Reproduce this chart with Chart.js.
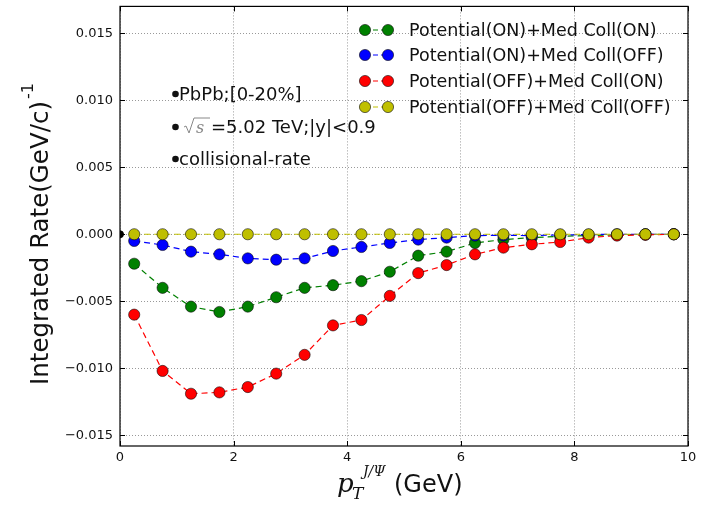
<!DOCTYPE html>
<html>
<head>
<meta charset="utf-8">
<script src="https://cdn.jsdelivr.net/npm/chart.js@4/dist/chart.umd.min.js"></script>
<style>
  html, body { margin: 0; padding: 0; background: #fff; }
  #wrap { width: 703px; height: 509px; }
</style>
</head>
<body>
<div id="wrap"><canvas id="chart"></canvas></div>
<script>
// J/psi integrated collisional rate vs pT, four potential / medium-collision settings

const PT = [0.25, 0.75, 1.25, 1.75, 2.25, 2.75, 3.25, 3.75, 4.25, 4.75,
            5.25, 5.75, 6.25, 6.75, 7.25, 7.75, 8.25, 8.75, 9.25, 9.75];

const POT_ON_COLL_ON   = [-0.0022, -0.0040, -0.0054, -0.0058, -0.0054, -0.0047, -0.0040, -0.0038, -0.0035, -0.0028,
                          -0.0016, -0.0013, -0.00065, -0.0004, -0.00025, -0.00015, -0.0001, -0.00005, 0, 0];
const POT_ON_COLL_OFF  = [-0.0005, -0.0008, -0.0013, -0.0015, -0.0018, -0.0019, -0.0018, -0.00125, -0.00095, -0.00065,
                          -0.0004, -0.00025, -0.0001, -0.00008, -0.0001, -0.00005, -0.00003, 0, 0, 0];
const POT_OFF_COLL_ON  = [-0.0060, -0.0102, -0.0119, -0.0118, -0.0114, -0.0104, -0.0090, -0.0068, -0.0064, -0.0046,
                          -0.0029, -0.0023, -0.0015, -0.0010, -0.00075, -0.00058, -0.00025, -0.0001, -0.00005, 0];
const POT_OFF_COLL_OFF = [0, 0, 0, 0, 0, 0, 0, 0, 0, 0, 0, 0, 0, 0, 0, 0, 0, 0, 0, 0];

const LABELS = [
  "Potential(ON)+Med Coll(ON)",
  "Potential(ON)+Med Coll(OFF)",
  "Potential(OFF)+Med Coll(ON)",
  "Potential(OFF)+Med Coll(OFF)",
];
const COLORS = ["#008000", "#0000ff", "#ff0000", "#bfbf00"];

const X_TICKS = [0, 2, 4, 6, 8, 10];
const Y_TICKS = [-0.015, -0.010, -0.005, 0.000, 0.005, 0.010, 0.015];

const NOTES = ["PbPb;[0-20%]", "=5.02 TeV;|y|<0.9", "collisional-rate"];

const FONT = "'DejaVu Sans', sans-serif";

function series(vals, i, order) {
  return {
    label: LABELS[i],
    data: PT.map((x, k) => ({ x, y: vals[k] })),
    borderColor: COLORS[i],
    backgroundColor: COLORS[i],
    pointBackgroundColor: COLORS[i],
    pointBorderColor: "rgba(0,0,0,0.7)",
    pointBorderWidth: 0.8,
    pointRadius: 5.6,
    borderWidth: 1.2,
    borderDash: [6, 4],
    tension: 0,
    fill: false,
    order,
  };
}

const fmtTick = v => {
  const s = Math.abs(v).toFixed(3);
  return (v < -1e-9 ? "\u2212" : "") + s;
};

// text, legend, axis titles and inward tick marks
const decor = {
  id: "decor",
  afterDraw(chart) {
    const { ctx, chartArea: a, scales: { x, y } } = chart;
    ctx.save();

    // inward ticks on all four sides
    ctx.strokeStyle = "#000";
    ctx.lineWidth = 1;
    ctx.beginPath();
    for (const t of Y_TICKS) {
      const py = Math.round(y.getPixelForValue(t)) + 0.5;
      ctx.moveTo(a.left, py); ctx.lineTo(a.left + 5, py);
      ctx.moveTo(a.right, py); ctx.lineTo(a.right - 5, py);
    }
    for (const t of X_TICKS) {
      const px = Math.round(x.getPixelForValue(t)) + 0.5;
      ctx.moveTo(px, a.bottom); ctx.lineTo(px, a.bottom - 5);
      ctx.moveTo(px, a.top); ctx.lineTo(px, a.top + 5);
    }
    ctx.stroke();

    // frame
    ctx.lineWidth = 1.2;
    ctx.strokeRect(a.left, a.top, a.right - a.left, a.bottom - a.top);

    // annotation block
    ctx.fillStyle = "#111";
    ctx.textBaseline = "alphabetic";
    const nx = 172, ny = [100, 133, 165];
    ctx.font = "18px " + FONT;
    for (let i = 0; i < NOTES.length; i++) {
      ctx.beginPath();
      ctx.arc(nx + 3.5, ny[i] - 6, 3.3, 0, Math.PI * 2);
      ctx.fill();
    }
    ctx.fillText(NOTES[0], nx + 7, ny[0]);
    ctx.fillText(NOTES[2], nx + 7, ny[2]);
    // sqrt(s)
    const sx = nx + 12, sy = ny[1];
    ctx.strokeStyle = "#888";
    ctx.lineWidth = 1;
    ctx.beginPath();
    ctx.moveTo(sx, sy - 6);
    ctx.lineTo(sx + 2, sy - 7);
    ctx.lineTo(sx + 5, sy);
    ctx.lineTo(sx + 10, sy - 15);
    ctx.lineTo(sx + 26, sy - 15);
    ctx.stroke();
    ctx.font = "italic 16px 'DejaVu Serif', serif";
    ctx.fillStyle = "#888";
    ctx.fillText("s", sx + 12, sy);
    ctx.fillStyle = "#111";
    ctx.font = "18px " + FONT;
    ctx.fillText(NOTES[1], sx + 27, sy);

    // legend
    const ly = [30, 55, 81, 107];
    ctx.font = "17.5px " + FONT;
    ctx.textBaseline = "middle";
    chart.data.datasets.slice(0, 4).forEach((ds, i) => {
      const yy = ly[i];
      ctx.strokeStyle = ds.borderColor;
      ctx.lineWidth = 1.2;
      ctx.setLineDash([5, 3]);
      ctx.beginPath();
      ctx.moveTo(365, yy); ctx.lineTo(388, yy);
      ctx.stroke();
      ctx.setLineDash([]);
      for (const cx of [365, 388]) {
        ctx.beginPath();
        ctx.arc(cx, yy, 5.6, 0, Math.PI * 2);
        ctx.fillStyle = ds.backgroundColor;
        ctx.fill();
        ctx.strokeStyle = "rgba(0,0,0,0.7)";
        ctx.lineWidth = 0.8;
        ctx.stroke();
      }
      ctx.fillStyle = "#111";
      ctx.fillText(ds.label, 409, yy + 1);
    });

    // y-axis title
    ctx.save();
    ctx.translate(42, 243);
    ctx.rotate(-Math.PI / 2);
    ctx.textAlign = "center";
    ctx.textBaseline = "middle";
    ctx.font = "24.5px " + FONT;
    const yt = "Integrated Rate(GeV/c)";
    ctx.fillText(yt, 0, 0);
    const w = ctx.measureText(yt).width;
    ctx.textAlign = "left";
    ctx.font = "16px " + FONT;
    ctx.fillText("-1", w / 2 + 2, -13);
    ctx.restore();

    // x-axis title p_T^{J/Psi}(GeV)
    const by = 492;
    ctx.textAlign = "left";
    ctx.textBaseline = "alphabetic";
    ctx.font = "italic 26px 'DejaVu Serif', serif";
    ctx.fillText("p", 337, by);
    ctx.font = "italic 17px 'DejaVu Serif', serif";
    ctx.fillText("T", 352, by + 7);
    ctx.font = "italic 14px 'DejaVu Serif', serif";
    ctx.fillText("J/\u03A8", 363, by - 16);
    ctx.font = "24px " + FONT;
    ctx.fillText("(GeV)", 394, by);

    ctx.restore();
  },
};

new Chart(document.getElementById("chart"), {
  type: "line",
  data: {
    datasets: [
      series(POT_ON_COLL_ON, 0, 4),
      series(POT_ON_COLL_OFF, 1, 3),
      series(POT_OFF_COLL_ON, 2, 2),
      series(POT_OFF_COLL_OFF, 3, 1),
      {
        label: "origin",
        data: [{ x: 0, y: 0 }],
        showLine: false,
        pointRadius: 3.5,
        pointBackgroundColor: "#000",
        pointBorderColor: "#000",
        order: 0,
      },
    ],
  },
  options: {
    responsive: true,
    maintainAspectRatio: false,
    animation: false,
    layout: { padding: { left: 0, right: 15, top: 5, bottom: 0 } },
    plugins: {
      legend: { display: false },
      tooltip: { enabled: false },
    },
    scales: {
      x: {
        type: "linear",
        min: 0,
        max: 10,
        afterBuildTicks: s => { s.ticks = X_TICKS.map(value => ({ value })); },
        afterFit: s => { s.height = 63; },
        ticks: { color: "#111", font: { family: FONT, size: 13 }, padding: 4 },
        grid: { color: "rgba(0,0,0,0.5)", lineWidth: 0.8, drawTicks: false },
        border: { display: false, dash: [1, 2] },
      },
      y: {
        type: "linear",
        min: -0.0158,
        max: 0.0170,
        afterBuildTicks: s => { s.ticks = Y_TICKS.map(value => ({ value })); },
        afterFit: s => { s.width = 120; s.paddingTop = 0; s.paddingBottom = 0; },
        ticks: { color: "#111", font: { family: FONT, size: 13 }, padding: 7, callback: fmtTick },
        grid: { color: "rgba(0,0,0,0.5)", lineWidth: 0.8, drawTicks: false },
        border: { display: false, dash: [1, 2] },
      },
    },
  },
  plugins: [decor],
});
</script>
</body>
</html>
